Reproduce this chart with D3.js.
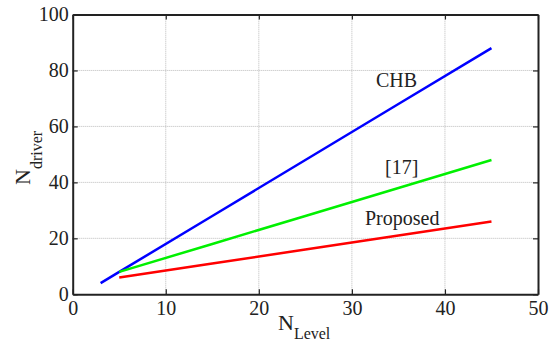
<!DOCTYPE html>
<html>
<head>
<meta charset="utf-8">
<script src="https://cdn.jsdelivr.net/npm/d3@7"></script>
<style>
  body { margin: 0; background: #fff; }
</style>
</head>
<body>
<div id="chart"></div>
<script>
// Chart data
var chbLevels = [3, 5, 15, 25, 35, 45];
var chbDrivers = [4, 8, 28, 48, 68, 88];
var ref17Levels = [5, 15, 25, 35, 45];
var ref17Drivers = [8, 18, 28, 38, 48];
var proposedLevels = [5, 15, 25, 35, 45];
var proposedDrivers = [6, 11, 16, 21, 26];
var xTicks = [0, 10, 20, 30, 40, 50];
var yTicks = [0, 20, 40, 60, 80, 100];

var width = 554, height = 341;
var margin = {top: 14.5, right: 16, bottom: 46.7, left: 72.7};
var serif = "'Liberation Serif', 'Times New Roman', serif";

var svg = d3.select("#chart").append("svg")
  .attr("width", width)
  .attr("height", height);

var x = d3.scaleLinear().domain([0, 50]).range([margin.left, width - margin.right]);
var y = d3.scaleLinear().domain([0, 100]).range([height - margin.bottom, margin.top]);

// Grid lines (dotted, light grey)
svg.append("g").selectAll("line")
  .data(xTicks.slice(1, -1))
  .enter().append("line")
    .attr("x1", d => x(d)).attr("x2", d => x(d))
    .attr("y1", y(0)).attr("y2", y(100))
    .style("stroke", "#bbb").style("stroke-dasharray", "1,1").style("stroke-width", 1);
svg.append("g").selectAll("line")
  .data(yTicks.slice(1, -1))
  .enter().append("line")
    .attr("x1", x(0)).attr("x2", x(50))
    .attr("y1", d => y(d)).attr("y2", d => y(d))
    .style("stroke", "#bbb").style("stroke-dasharray", "1,1").style("stroke-width", 1);

// Axes with inward ticks on all four sides (MATLAB style)
var xAxis = svg.append("g")
  .attr("transform", "translate(0," + y(0) + ")")
  .call(d3.axisBottom(x).tickValues(xTicks).tickSizeInner(-5).tickSizeOuter(0).tickPadding(6.5));
var yAxis = svg.append("g")
  .attr("transform", "translate(" + x(0) + ",0)")
  .call(d3.axisLeft(y).tickValues(yTicks).tickSizeInner(-5).tickSizeOuter(0).tickPadding(4));
svg.append("g")
  .attr("transform", "translate(0," + y(100) + ")")
  .call(d3.axisTop(x).tickValues(xTicks).tickSizeInner(-5).tickSizeOuter(0).tickFormat(""));
svg.append("g")
  .attr("transform", "translate(" + x(50) + ",0)")
  .call(d3.axisRight(y).tickValues(yTicks).tickSizeInner(-5).tickSizeOuter(0).tickFormat(""));

svg.selectAll(".domain").style("stroke", "#222").style("stroke-width", 2);
svg.selectAll(".tick line").style("stroke", "#222").style("stroke-width", 1.2);
svg.selectAll(".tick text")
  .style("font-family", serif)
  .style("font-size", "20px").style("fill", "#222");

// Series lines
var line = d3.line().x(d => x(d[0])).y(d => y(d[1]));
var series = [
  { levels: chbLevels, drivers: chbDrivers, color: "#0000ff" },
  { levels: ref17Levels, drivers: ref17Drivers, color: "#00f000" },
  { levels: proposedLevels, drivers: proposedDrivers, color: "#ff0000" }
];
series.forEach(function(s) {
  svg.append("path")
    .datum(d3.zip(s.levels, s.drivers))
    .attr("d", line)
    .style("fill", "none")
    .style("stroke", s.color)
    .style("stroke-width", 2.5);
});

// Series labels
function label(tx, ty, str) {
  svg.append("text").attr("x", tx).attr("y", ty)
    .style("font-family", serif).style("font-size", "20px").style("fill", "#222")
    .text(str);
}
label(376, 87, "CHB");
label(385, 174, "[17]");
label(365, 225, "Proposed");

// Axis titles
var xt = svg.append("text").attr("x", 278).attr("y", 330)
  .style("font-family", serif).style("font-size", "22px").style("fill", "#222");
xt.append("tspan").text("N");
xt.append("tspan").attr("dy", 9).style("font-size", "16px").text("Level");

var yt = svg.append("text")
  .attr("transform", "translate(30,185) rotate(-90)")
  .style("font-family", serif).style("font-size", "22px").style("fill", "#222");
yt.append("tspan").text("N");
yt.append("tspan").attr("dy", 12).style("font-size", "16px").text("driver");
</script>
</body>
</html>
